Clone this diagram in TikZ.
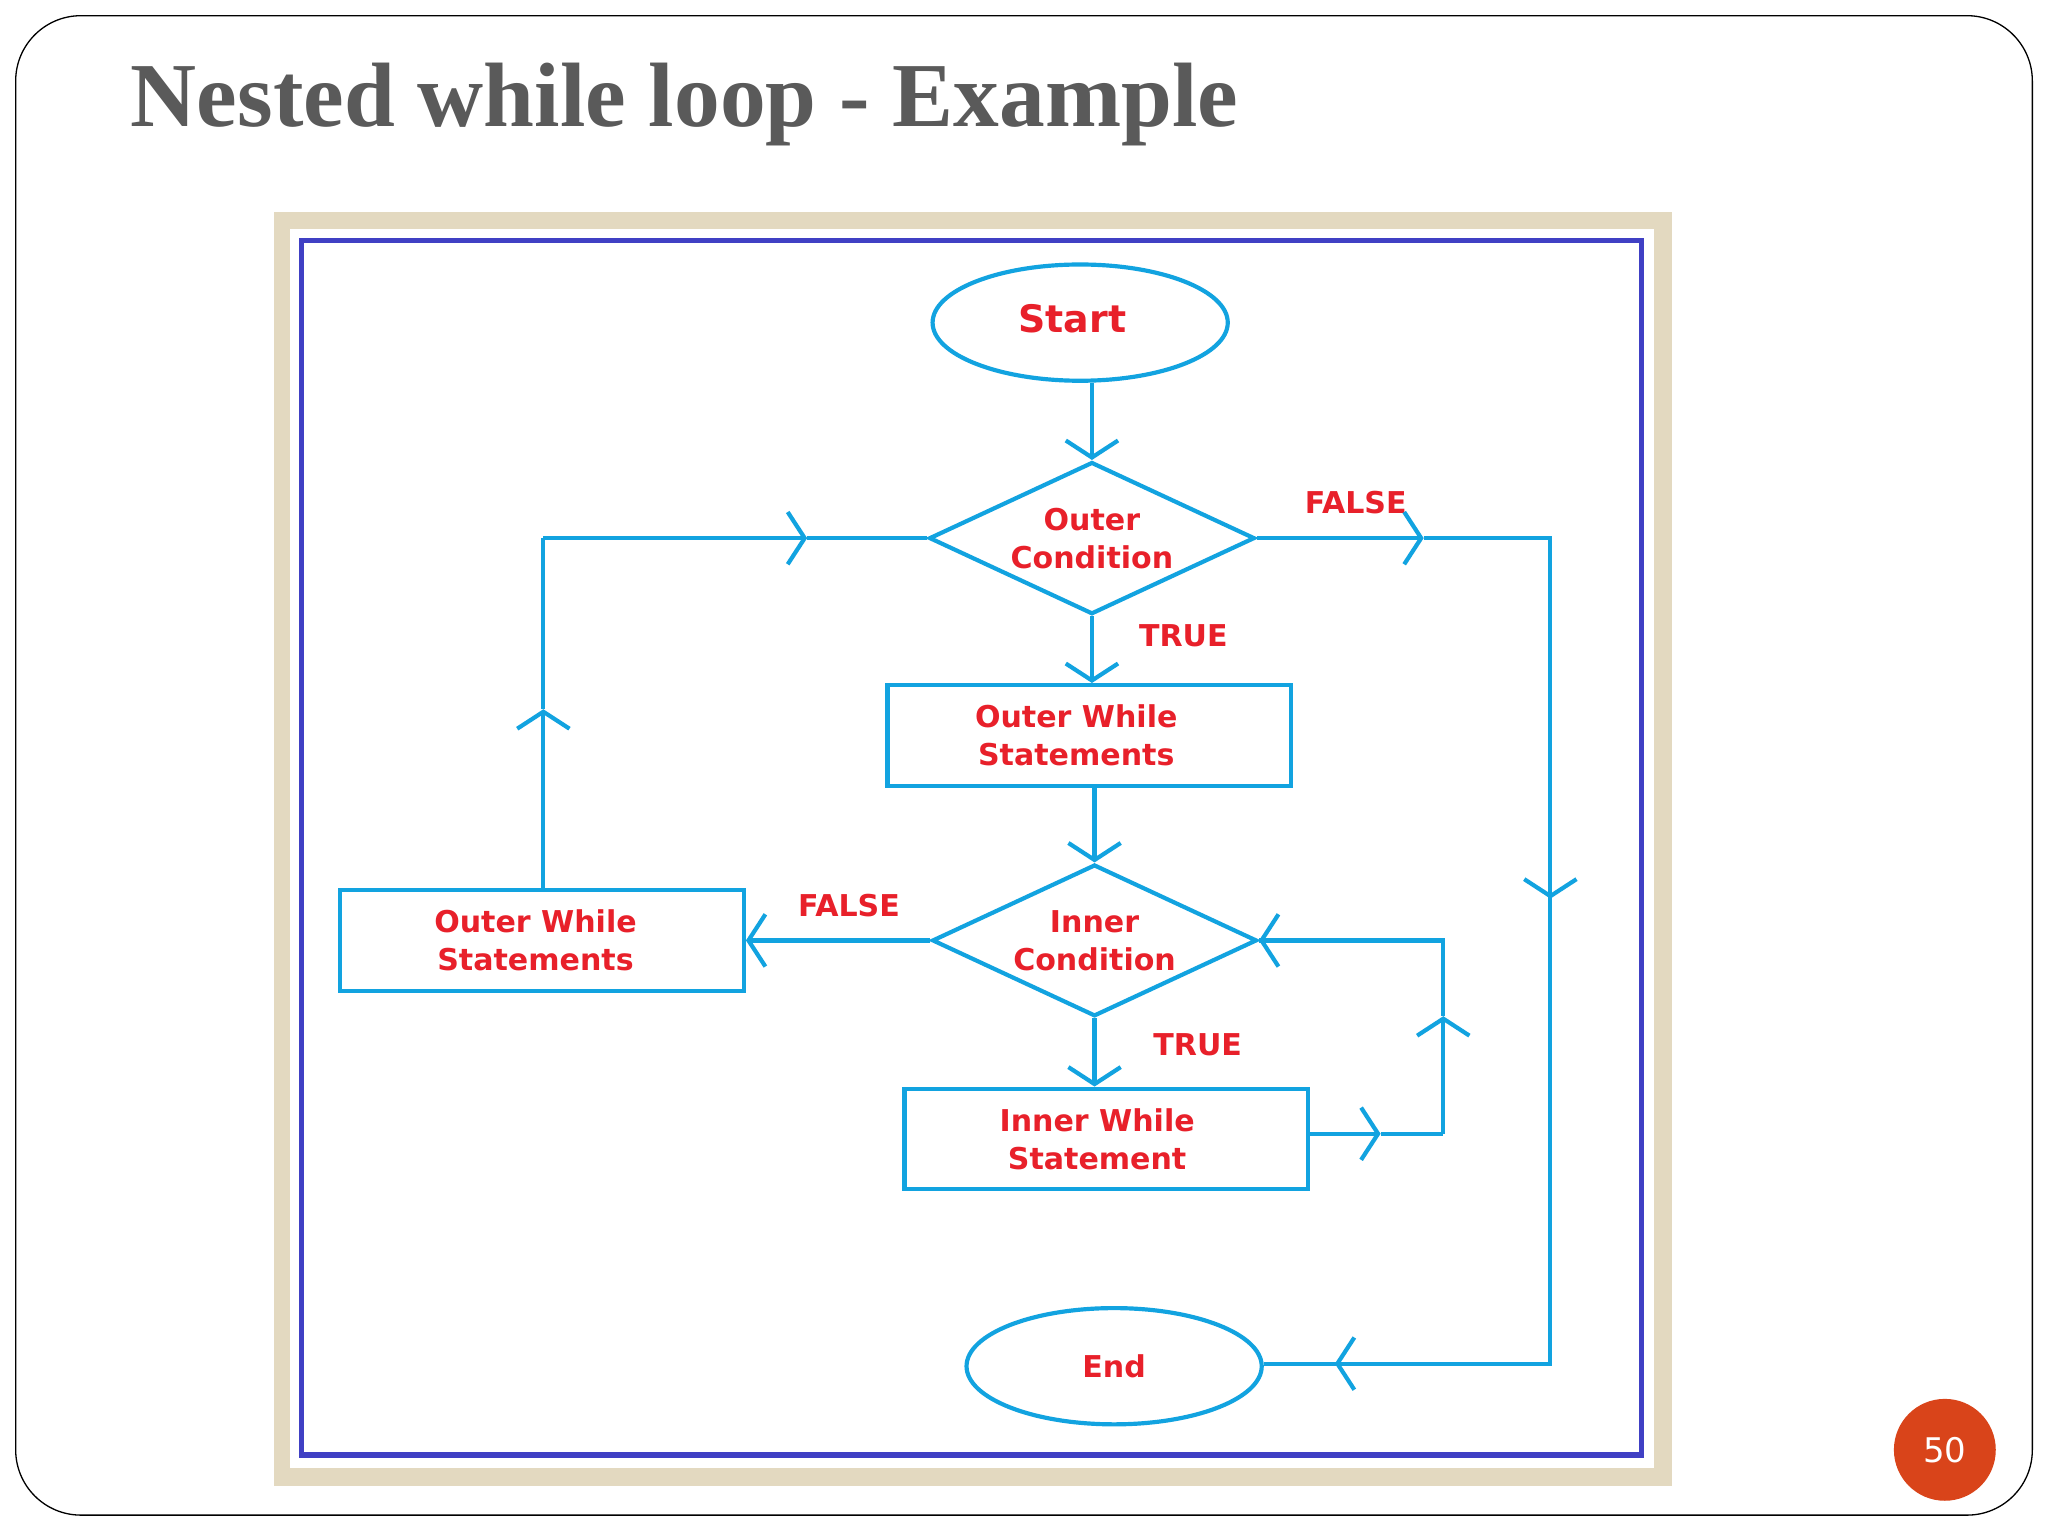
\documentclass[tikz,border=0pt]{standalone}
\usepackage{fontspec}
\setmainfont{Liberation Serif}
\newfontfamily\sansb{DejaVu Sans}
\usetikzlibrary{arrows.meta,shapes.geometric}
\definecolor{cy}{HTML}{12A3E0}
\definecolor{rd}{HTML}{E8202A}
\definecolor{bl}{HTML}{4040C4}
\definecolor{bg}{HTML}{E3D9C0}
\definecolor{tg}{HTML}{5A5A5A}
\definecolor{pn}{HTML}{D9441A}
\begin{document}
\begin{tikzpicture}[x=1pt,y=-1pt,
  ln/.style={draw=cy,line width=3.2pt},
  arr/.style={ln,-{Straight Barb[length=13pt,width=40pt,line width=3.2pt]}},
  lbl/.style={text=rd,font=\sansb\bfseries\fontsize{23}{29}\selectfont,align=center,inner sep=0pt},
  box/.style={ln,rectangle,minimum width=309pt,minimum height=77pt,lbl},
  dia/.style={ln,diamond,aspect=2.14,minimum width=244pt,minimum height=114pt,inner sep=0pt,lbl},
  ell/.style={ln,ellipse,minimum width=226pt,minimum height=89pt,lbl}]
\useasboundingbox (0,0) rectangle (1568,1176);
\fill[white] (0,0) rectangle (1568,1176);
\draw[black,line width=1pt,rounded corners=50pt] (12,12) rectangle (1556,1160);
\node[anchor=base west,text=tg,font=\bfseries\fontsize{70}{80}\selectfont,inner sep=0pt] (title) at (100,97) {Nested while loop - Example};
\fill[bg] (210,162) rectangle (1280,1138);
\fill[white] (222,175) rectangle (1266,1124);
\draw[bl,line width=4pt] (231,184) rectangle (1257,1114);
\node[ell,font=\sansb\bfseries\fontsize{29}{32}\selectfont] (start) at (827,247) {\hspace*{-12pt}\raisebox{6pt}{Start}};
\node[dia] (oc) at (836,412) {\raisebox{12pt}{\parbox{150pt}{\centering Outer\\Condition}}};
\node[box] (ows) at (834,563) {\hspace*{-20pt}\raisebox{4pt}{\parbox{200pt}{\centering Outer While\\Statements}}};
\node[dia] (ic) at (838,720) {\raisebox{12pt}{\parbox{150pt}{\centering Inner\\Condition}}};
\node[box] (ows2) at (415,720) {\hspace*{-10pt}\raisebox{4pt}{\parbox{200pt}{\centering Outer While\\Statements}}};
\node[box] (iws) at (847,872) {\hspace*{-14pt}\raisebox{4pt}{\parbox{200pt}{\centering Inner While\\Statement}}};
\node[ell] (end) at (853,1046) {End};
\node[lbl] (f1) at (1038,385) {FALSE};
\node[lbl] (t1) at (906,487) {TRUE};
\node[lbl] (f2) at (650,693) {FALSE};
\node[lbl] (t2) at (917,800) {TRUE};
\node[circle,fill=pn,minimum size=78pt,text=white,font=\sansb\fontsize{26}{30}\selectfont] (pg) at (1489,1110) {50};
% connectors
\draw[arr] (oc.north|-start.south) -- (oc.north);
\draw[arr] (oc.south) -- (oc.south|-ows.north);
\draw[arr] (ic.north|-ows.south) -- (ic.north);
\draw[arr] (ic.west) -- (ows2.east);
\draw[arr] (ic.south) -- (ic.south|-iws.north);
% outer false
\coordinate (a1) at (1090,412); \coordinate (a2) at (1187,412);
\coordinate (a3) at (1187,688); \coordinate (a4) at (1187,1044);
\coordinate (a5) at (1022,1044);
\draw[arr] (oc.east) -- (a1); \draw[ln] (a1) -- (a2) -- (a3);
\draw[arr] (a2) -- (a3); \draw[ln] (a3) -- (a4) -- (a5);
\draw[arr] (a4) -- (a5); \draw[ln] (a5) -- (end.east|-a5);
% inner loop back
\coordinate (b1) at (1057,868); \coordinate (b2) at (1105,868);
\coordinate (b3) at (1105,778); \coordinate (b4) at (1105,720);
\draw[arr] (iws.east|-b1) -- (b1); \draw[ln] (b1) -- (b2);
\draw[arr] (b2) -- (b3); \draw[ln] (b3) -- (b4) -- (ic.east);
\draw[arr] (b4) -- (ic.east);
% outer loop back
\coordinate (c1) at (416,543); \coordinate (c2) at (416,412);
\coordinate (c3) at (618,412);
\draw[arr] (ows2.north-|c1) -- (c1); \draw[ln] (c1) -- (c2);
\draw[arr] (c2) -- (c3); \draw[ln] (c3) -- (oc.west);
\end{tikzpicture}
\end{document}
